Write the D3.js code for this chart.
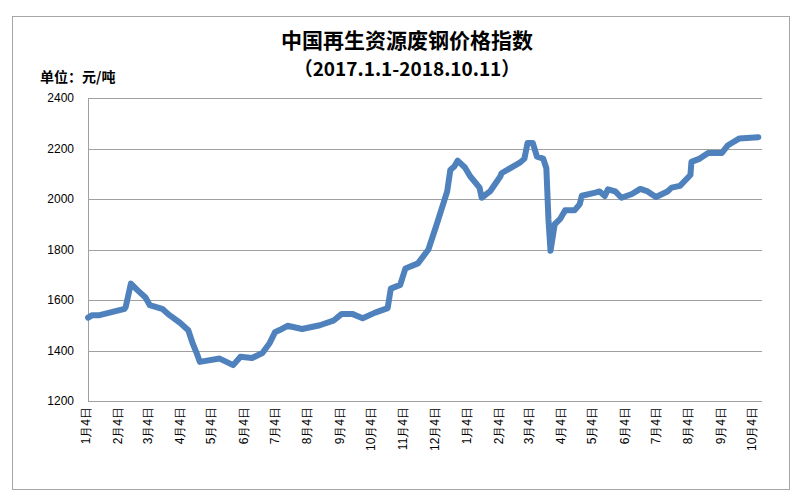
<!DOCTYPE html>
<html>
<head>
<meta charset="utf-8">
<script src="https://cdn.jsdelivr.net/npm/d3@7"></script>
<style>
  body { margin: 0; background: #fff; }
  text { font-family: "Liberation Sans", Arial, sans-serif; }
</style>
</head>
<body>
<div id="chartArea"></div>
<script>
// price index
let dates = [
  "2017-01-06","2017-01-10","2017-01-17","2017-02-10","2017-02-11","2017-02-16","2017-02-22",
  "2017-03-02","2017-03-06","2017-03-18","2017-03-25","2017-04-04","2017-04-12","2017-04-16",
  "2017-04-20","2017-04-23","2017-05-12","2017-05-25","2017-06-01","2017-06-12","2017-06-22",
  "2017-06-29","2017-07-04","2017-07-09","2017-07-16","2017-07-30","2017-08-16","2017-08-29",
  "2017-09-06","2017-09-16","2017-09-26","2017-10-08","2017-10-20","2017-10-23","2017-11-01",
  "2017-11-06","2017-11-18","2017-11-28","2017-12-06","2017-12-16","2017-12-19","2017-12-23",
  "2017-12-26","2018-01-02","2018-01-07","2018-01-16","2018-01-18","2018-01-26","2018-02-05",
  "2018-02-06","2018-02-24","2018-02-28","2018-03-03","2018-03-08","2018-03-12","2018-03-18",
  "2018-03-21","2018-03-23","2018-03-25","2018-03-29","2018-04-03","2018-04-08","2018-04-17",
  "2018-04-22","2018-04-24","2018-05-07","2018-05-11","2018-05-16","2018-05-19","2018-05-26",
  "2018-06-01","2018-06-11","2018-06-19","2018-06-26","2018-07-04","2018-07-15","2018-07-19",
  "2018-07-27","2018-08-06","2018-08-07","2018-08-15","2018-08-23","2018-09-05","2018-09-11",
  "2018-09-22","2018-10-10"
];
let prices = [
  1530,1540,1540,1565,1572,1665,1640,
  1610,1580,1565,1540,1510,1480,1430,
  1390,1355,1368,1342,1375,1370,1390,
  1430,1472,1482,1498,1485,1500,1518,
  1545,1545,1528,1550,1568,1645,1660,
  1725,1745,1800,1900,2030,2115,2130,
  2152,2125,2090,2045,2005,2030,2090,
  2102,2145,2160,2222,2222,2168,2160,
  2122,1920,1795,1900,1920,1955,1955,
  1980,2013,2025,2030,2012,2038,2030,
  2005,2020,2040,2030,2008,2030,2045,
  2052,2095,2147,2160,2182,2182,2213,
  2240,2245
];
let yTicks = [1200, 1400, 1600, 1800, 2000, 2200, 2400];
let xTicks = [
  "2017-01-04","2017-02-04","2017-03-04","2017-04-04","2017-05-04","2017-06-04","2017-07-04",
  "2017-08-04","2017-09-04","2017-10-04","2017-11-04","2017-12-04","2018-01-04","2018-02-04",
  "2018-03-04","2018-04-04","2018-05-04","2018-06-04","2018-07-04","2018-08-04","2018-09-04",
  "2018-10-04"
];

let W = 800, H = 500;
let pLeft = 88, pRight = 762, pTop = 98, pBottom = 401;
let parse = d3.utcParse("%Y-%m-%d");

let svg = d3.select('#chartArea').append('svg').attr('width', W).attr('height', H);

svg.append('rect').attr('x', 12.5).attr('y', 16.5).attr('width', 777).attr('height', 473)
   .attr('fill', 'none').attr('stroke', '#a6a6a6');

let x = d3.scaleUtc().domain([parse("2017-01-04"), parse("2018-10-04")]).range([86, 752]);
let y = d3.scaleLinear().domain([1200, 2400]).range([pBottom, pTop]);

// grid
svg.append('g').selectAll('line').data(yTicks).enter().append('line')
   .attr('x1', pLeft).attr('x2', pRight)
   .attr('y1', d => Math.round(y(d)) + 0.5).attr('y2', d => Math.round(y(d)) + 0.5)
   .attr('stroke', '#a0a0a0').attr('stroke-width', 1);
svg.append('line').attr('x1', pLeft + 0.5).attr('x2', pLeft + 0.5).attr('y1', pTop).attr('y2', pBottom)
   .attr('stroke', '#a0a0a0');

// y labels
svg.append('g').selectAll('text').data(yTicks).enter().append('text')
   .attr('x', 74).attr('y', d => y(d) + 4).attr('text-anchor', 'end')
   .attr('font-size', 12).text(d => d);

// x labels (rotated)
svg.append('g').selectAll('text').data(xTicks).enter().append('text')
   .attr('transform', d => `translate(${x(parse(d)) + 4},${pBottom + 6}) rotate(-90)`)
   .attr('text-anchor', 'end').attr('font-size', 12)
   .text(d => (parse(d).getUTCMonth() + 1) + '月4日');

// line
let pts = dates.map((d, i) => [parse(d), prices[i]]);
svg.append('path').datum(pts)
   .attr('d', d3.line().x(d => x(d[0])).y(d => y(d[1])))
   .attr('fill', 'none').attr('stroke', '#4f81bd').attr('stroke-width', 6)
   .attr('stroke-linejoin', 'round').attr('stroke-linecap', 'round');

// titles
svg.append('text').attr('x', 407).attr('y', 48).attr('text-anchor', 'middle')
   .attr('font-size', 21).attr('font-weight', 'bold')
   .style('font-family', '"Noto Sans CJK SC", sans-serif')
   .text('中国再生资源废钢价格指数');
svg.append('text').attr('x', 407).attr('y', 76).attr('text-anchor', 'middle')
   .attr('font-size', 19).attr('font-weight', 'bold')
   .style('font-family', '"Noto Sans CJK SC", sans-serif')
   .text('（2017.1.1-2018.10.11）');
svg.append('text').attr('x', 40).attr('y', 82)
   .attr('font-size', 14).attr('font-weight', 'bold')
   .style('font-family', '"Noto Sans CJK SC", sans-serif')
   .text('单位：元/吨');
</script>
</body>
</html>
